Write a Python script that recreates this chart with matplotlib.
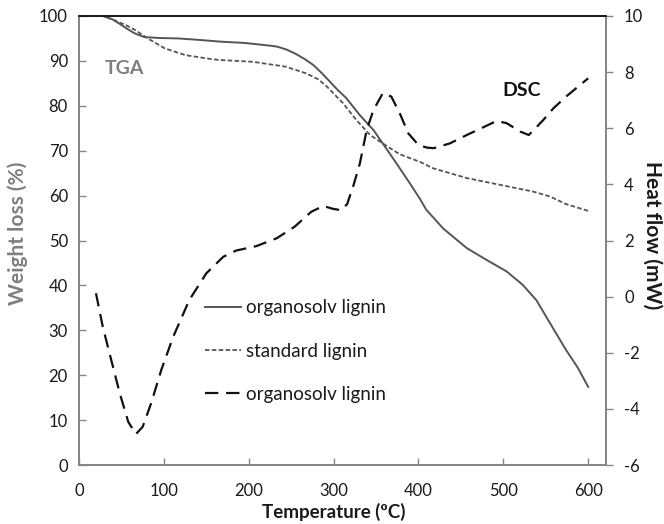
import matplotlib
matplotlib.use("Agg")
import matplotlib.pyplot as plt

plt.rcParams['font.family'] = ['Lato', 'DejaVu Sans']
plt.rcParams['axes.unicode_minus'] = False

# TGA organosolv lignin (weight loss %)
tga_org_T = [25, 28, 40, 50, 58, 66, 77, 95, 117, 140, 166, 195, 205, 220, 233, 245, 256, 266, 276, 286, 296, 305, 315, 331, 347, 358, 374, 390, 402, 409, 429, 457, 480, 504, 523, 539, 555, 574, 588, 600]
tga_org_W = [100, 100, 99.2, 98.0, 97.0, 96.1, 95.3, 95.1, 95.0, 94.7, 94.3, 94.0, 93.8, 93.5, 93.2, 92.5, 91.5, 90.4, 89.1, 87.3, 85.3, 83.5, 81.7, 77.9, 74.6, 71.6, 67.2, 62.7, 59.2, 56.9, 52.7, 48.3, 45.7, 43.1, 40.1, 36.7, 31.6, 25.6, 21.6, 17.4]

# TGA standard lignin
tga_std_T = [25, 30, 46, 56, 66, 81, 101, 125, 156, 166, 205, 244, 268, 282, 292, 311, 327, 343, 358, 378, 402, 417, 437, 457, 496, 535, 555, 574, 600]
tga_std_W = [100, 100, 98.7, 97.9, 96.9, 95.0, 92.8, 91.3, 90.4, 90.2, 89.8, 88.7, 87.2, 85.9, 84.3, 80.6, 76.8, 73.5, 71.6, 69.2, 67.5, 66.1, 65.0, 63.9, 62.4, 60.9, 59.8, 58.1, 56.6]

# DSC organosolv lignin (heat flow mW)
dsc_T = [20, 28, 38, 48, 58, 67, 75, 85, 97, 111, 130, 150, 170, 185, 209, 233, 254, 274, 288, 299, 309, 316, 323, 331, 339, 347, 358, 368, 378, 388, 400, 410, 418, 437, 457, 474, 492, 504, 520, 530, 536, 547, 559, 574, 600]
dsc_H = [0.12, -1.07, -2.26, -3.44, -4.46, -4.9, -4.64, -3.8, -2.61, -1.43, -0.12, 0.83, 1.42, 1.64, 1.8, 2.08, 2.49, 3.03, 3.23, 3.13, 3.08, 3.3, 3.92, 4.75, 5.94, 6.65, 7.25, 7.13, 6.53, 5.82, 5.4, 5.31, 5.29, 5.46, 5.76, 6.0, 6.26, 6.18, 5.88, 5.76, 5.94, 6.29, 6.71, 7.13, 7.78]

x_ticks = [0, 100, 200, 300, 400, 500, 600]
y_ticks = [0, 10, 20, 30, 40, 50, 60, 70, 80, 90, 100]
y2_ticks = [-6, -4, -2, 0, 2, 4, 6, 8, 10]

fig = plt.figure(figsize=(6.64, 5.24), dpi=100)
ax = fig.add_axes([79/664, 1-465/524, (606-79)/664, (465-16)/524])
ax2 = ax.twinx()

axis_col = '#868686'
ln1, = ax.plot(tga_org_T, tga_org_W, color='#555555', lw=1.4, solid_joinstyle='round')
ln2, = ax.plot(tga_std_T, tga_std_W, color='#555555', lw=1.3, linestyle=(0, (2.5, 1.3)))
ln3, = ax2.plot(dsc_T, dsc_H, color='#111111', lw=1.6, linestyle=(0, (6, 3.5)))

ax.set_xlim(0, 621)
ax.set_ylim(0, 100)
ax2.set_ylim(-6, 10)
ax.set_xticks(x_ticks)
ax.set_yticks(y_ticks)
ax2.set_yticks(y2_ticks)

for a in (ax, ax2):
    for s in a.spines.values():
        s.set_color(axis_col)
        s.set_linewidth(1.3)
    a.spines['top'].set_color('#1a1a1a')
    a.spines['top'].set_linewidth(1.3)

ax.tick_params(axis='x', direction='in', length=5, width=1, color=axis_col, labelsize=12, labelcolor='#1a1a1a', pad=13)
ax.tick_params(axis='y', direction='in', length=5, width=1, color=axis_col, labelsize=12, labelcolor='#1a1a1a', pad=8)
ax2.tick_params(axis='y', direction='out', length=5, width=1, color=axis_col, labelsize=12, labelcolor='#1a1a1a', pad=8)

ax.set_xlabel('Temperature (ºC)', fontsize=13.5, fontweight='bold', color='#1a1a1a')
ax.xaxis.set_label_coords((334-79)/527, (465-512)/449)
ax.xaxis.label.set_va('center')
ax.set_ylabel('Weight loss (%)', fontsize=15, fontweight='bold', color='#7f7f7f')
ax.yaxis.set_label_coords((18-79)/527, (465-233)/449)
ax.yaxis.label.set_va('center')
ax2.set_ylabel('Heat flow (mW)', fontsize=15, fontweight='bold', color='#1a1a1a', rotation=-90)
ax2.yaxis.set_label_coords((652-79)/527, (465-235)/449)
ax2.yaxis.label.set_va('center')
ax2.yaxis.label.set_ha('center')

ax.text(54, 88.4, 'TGA', fontsize=14, fontweight='bold', color='#7f7f7f', ha='center', va='center')
ax.text(521, 83.3, 'DSC', fontsize=14, fontweight='bold', color='#111111', ha='center', va='center')

leg = ax2.legend([ln1, ln2, ln3], ['organosolv lignin', 'standard lignin', 'organosolv lignin'],
                 loc='center left', bbox_to_anchor=((205-79)/527, (465-351)/449),
                 frameon=False, fontsize=13.5, handlelength=1.9, handletextpad=0.3,
                 labelspacing=1.4, borderpad=0, borderaxespad=0)
for t in leg.get_texts():
    t.set_color('#1a1a1a')

fig.savefig('out.png', dpi=100)
